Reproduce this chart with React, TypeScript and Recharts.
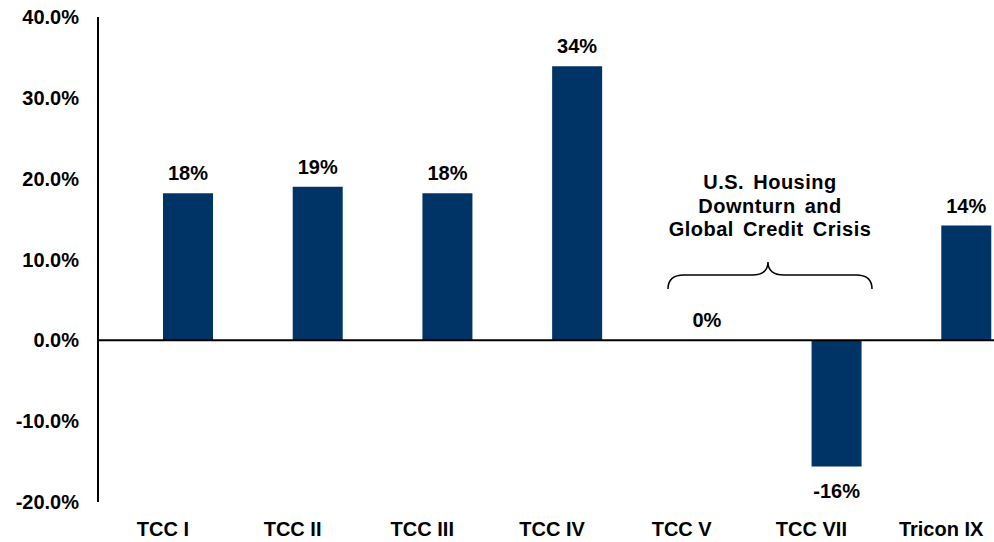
import React from "react";
import { BarChart, Bar, XAxis, YAxis, ReferenceLine, LabelList } from "recharts";

// fund names and net IRR (%)
const funds = ["TCC I", "TCC II", "TCC III", "TCC IV", "TCC V", "TCC VII", "Tricon IX"];
const netIrr = [18.2, 19.0, 18.2, 33.9, 0, -15.6, 14.2];
// empty slot to the left of every bar (as in the source deck)
const blankSeries = [null, null, null, null, null, null, null];
const yTicks = [-20, -10, 0, 10, 20, 30, 40];
const crisisNote = ["U.S. Housing", "Downturn and", "Global Credit Crisis"];

const FONT = '"Liberation Sans", Arial, Helvetica, sans-serif';
const NAVY = "#003366";

const chartData = funds.map((name, i) => ({
  name,
  blank: blankSeries[i],
  irr: netIrr[i],
}));

const textStyle = { fontFamily: FONT, fontSize: 20, fontWeight: 700, fill: "#000" };

const ValueLabel = (props: any) => {
  const { value } = props;
  if (value === null || value === undefined) return null;
  const x = Number(props.x);
  const y = Number(props.y);
  const w = Number(props.width);
  const h = Number(props.height) || 0;
  const top = Math.min(y, y + h);
  const bottom = Math.max(y, y + h);
  const ty = value < 0 ? bottom + 32 : top - 13;
  return (
    <text x={x + w / 2} y={ty} textAnchor="middle" style={textStyle}>
      {Math.round(value)}%
    </text>
  );
};

const App: React.FC = () => {
  return (
    <div
      style={{
        position: "absolute",
        left: 0,
        top: 0,
        width: 994,
        height: 542,
        overflow: "hidden",
        background: "#fff",
      }}
    >
      <BarChart
        width={1010}
        height={542}
        data={chartData}
        margin={{ top: 17, right: 4, bottom: 0, left: 0 }}
        barSize={50}
        barGap={0}
      >
        <XAxis
          dataKey="name"
          height={40}
          axisLine={false}
          tickLine={false}
          tickSize={0}
          tickMargin={20}
          interval={0}
          tick={textStyle}
        />
        <YAxis
          width={98}
          domain={[-20, 40]}
          ticks={yTicks}
          interval={0}
          tickLine={false}
          tickSize={0}
          tickMargin={19}
          axisLine={{ stroke: "#000", strokeWidth: 2 }}
          tickFormatter={(v: number) => `${v.toFixed(1)}%`}
          tick={textStyle}
        />
        <ReferenceLine y={0} stroke="#000" strokeWidth={2} />
        <Bar dataKey="blank" fill="none" isAnimationActive={false} />
        <Bar dataKey="irr" fill={NAVY} minPointSize={0.1} isAnimationActive={false}>
          <LabelList dataKey="irr" content={<ValueLabel />} />
        </Bar>
      </BarChart>

      {/* annotation over TCC V / TCC VII */}
      <svg
        width={994}
        height={542}
        style={{ position: "absolute", left: 0, top: 0, pointerEvents: "none" }}
      >
        {crisisNote.map((line, i) => (
          <text
            key={line}
            x={770}
            y={189 + i * 23.7}
            textAnchor="middle"
            style={{ ...textStyle, letterSpacing: 0.5, wordSpacing: 3 }}
          >
            {line}
          </text>
        ))}
        <path
          d="M668,289 Q668,275 684,275 L752,275 Q768,275 768,262 Q768,275 784,275 L856,275 Q872,275 872,289"
          fill="none"
          stroke="#000"
          strokeWidth={1.5}
        />
      </svg>
    </div>
  );
};

export default App;
